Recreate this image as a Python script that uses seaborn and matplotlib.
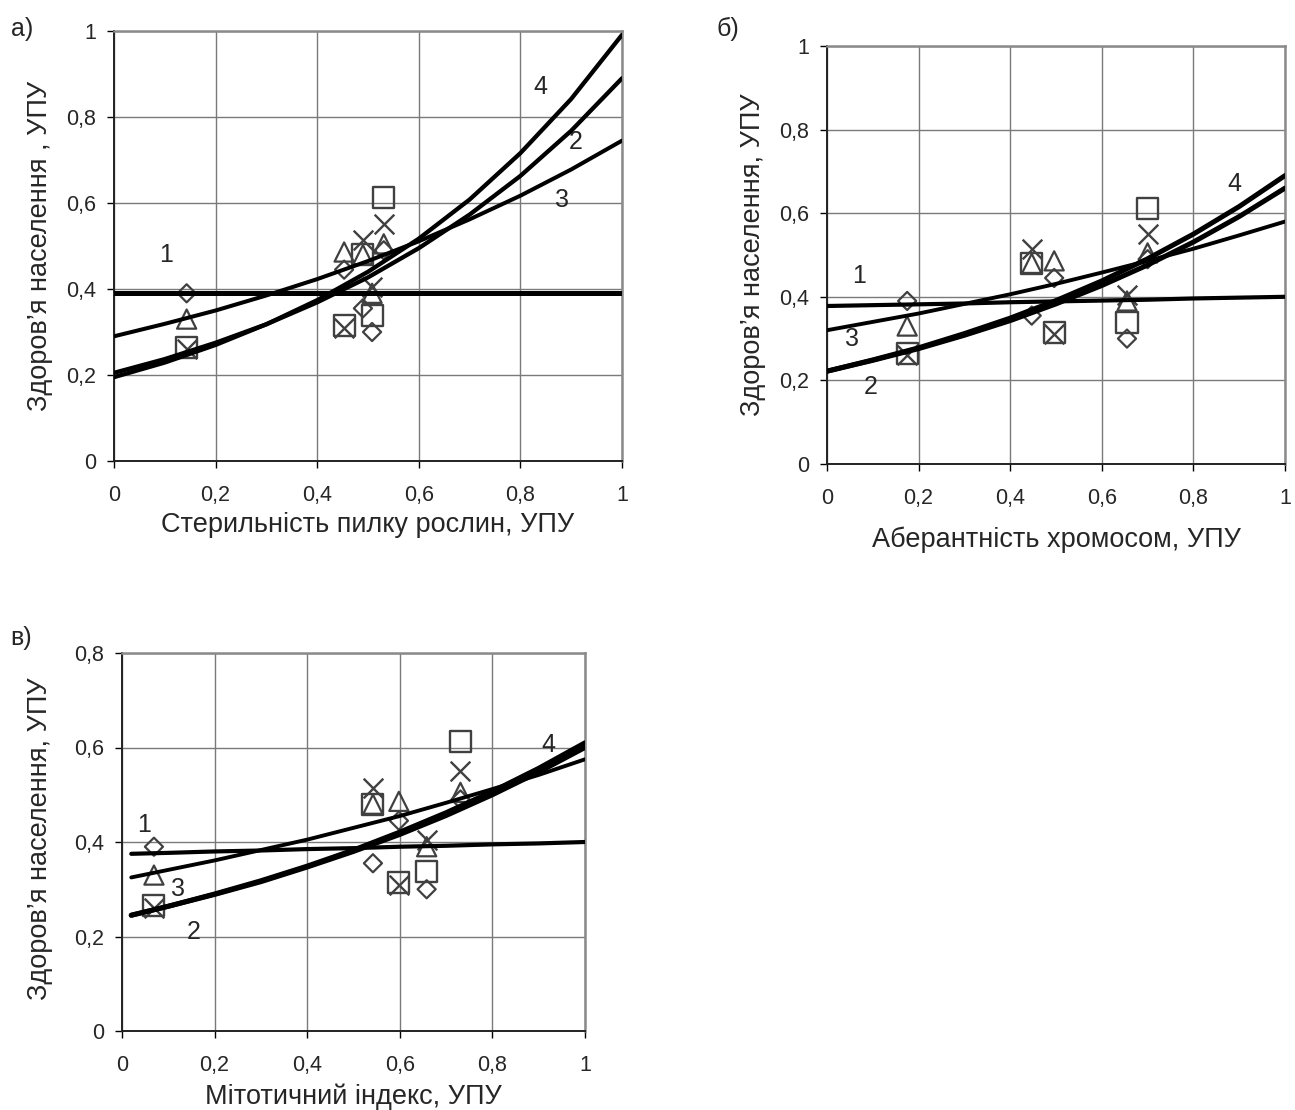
import matplotlib
matplotlib.use("Agg")
import matplotlib.pyplot as plt
import seaborn as sns
import pandas as pd

sns.set_theme(style="white")
plt.rcParams['font.family'] = ['Liberation Sans', 'DejaVu Sans']

# ---------------- data ----------------
# health indicator per site (same in all panels), by marker series
health_diamond = [0.39, 0.355, 0.445, 0.30, 0.49]
health_cross = [0.26, 0.515, 0.31, 0.405, 0.55]
health_triangle = [0.33, 0.48, 0.486, 0.39, 0.505]
health_square = [0.265, 0.48, 0.315, 0.338, 0.612]

# x values of the sites in each panel
x_a = [0.143, 0.49, 0.453, 0.508, 0.531]
x_b = [0.175, 0.447, 0.496, 0.655, 0.70]
x_c = [0.069, 0.542, 0.598, 0.658, 0.731]

# trend curves
curve_x_ab = [0.0, 0.1, 0.2, 0.3, 0.4, 0.5, 0.6, 0.7, 0.8, 0.9, 1.0]
curve_x_c = [0.02, 0.1, 0.2, 0.3, 0.4, 0.5, 0.6, 0.7, 0.8, 0.9, 1.0]

a_curve1 = [0.39, 0.39, 0.39, 0.39, 0.39, 0.39, 0.39, 0.39, 0.39, 0.39, 0.39]
a_curve2 = [0.205, 0.237, 0.275, 0.318, 0.369, 0.427, 0.495, 0.573, 0.663, 0.768, 0.890]
a_curve3 = [0.290, 0.319, 0.350, 0.385, 0.423, 0.465, 0.511, 0.562, 0.617, 0.678, 0.745]
a_curve4 = [0.195, 0.229, 0.270, 0.318, 0.374, 0.440, 0.517, 0.608, 0.716, 0.842, 0.991]

b_curve1 = [0.378, 0.380, 0.382, 0.384, 0.387, 0.389, 0.391, 0.393, 0.396, 0.398, 0.400]
b_curve2 = [0.222, 0.248, 0.276, 0.308, 0.343, 0.383, 0.427, 0.476, 0.531, 0.592, 0.660]
b_curve3 = [0.320, 0.340, 0.360, 0.383, 0.406, 0.431, 0.458, 0.486, 0.515, 0.547, 0.580]
b_curve4 = [0.222, 0.249, 0.278, 0.312, 0.349, 0.391, 0.438, 0.491, 0.550, 0.616, 0.690]

c_curve1 = [0.375, 0.377, 0.380, 0.382, 0.385, 0.387, 0.390, 0.392, 0.395, 0.397, 0.400]
c_curve2 = [0.245, 0.264, 0.289, 0.316, 0.347, 0.380, 0.416, 0.456, 0.500, 0.548, 0.600]
c_curve3 = [0.325, 0.341, 0.361, 0.383, 0.405, 0.430, 0.455, 0.483, 0.512, 0.542, 0.575]
c_curve4 = [0.245, 0.264, 0.290, 0.318, 0.349, 0.383, 0.421, 0.462, 0.507, 0.556, 0.610]

xlabels = ["Стерильність пилку рослин, УПУ", "Аберантність хромосом, УПУ", "Мітотичний індекс, УПУ"]
ylabels = ["Здоров’я населення , УПУ", "Здоров’я населення, УПУ", "Здоров’я населення, УПУ"]
panel_tags = ["а)", "б)", "в)"]
xtick_vals = [0, 0.2, 0.4, 0.6, 0.8, 1.0]
xtick_text = ["0", "0,2", "0,4", "0,6", "0,8", "1"]
ytick_vals_ab = [0, 0.2, 0.4, 0.6, 0.8, 1.0]
ytick_text_ab = ["0", "0,2", "0,4", "0,6", "0,8", "1"]
ytick_vals_c = [0, 0.2, 0.4, 0.6, 0.8]
ytick_text_c = ["0", "0,2", "0,4", "0,6", "0,8"]
curve_labels = ["1", "2", "3", "4"]

TICK_FS = 15.5
LABEL_FS = 19.5
NUM_FS = 18

# ---------------- figure ----------------
fig = plt.figure(figsize=(12.95, 11.10), dpi=100)
ax_a = fig.add_axes([114 / 1295, 1 - 461 / 1110, 508 / 1295, 430 / 1110])
ax_b = fig.add_axes([827 / 1295, 1 - 464 / 1110, 458 / 1295, 418 / 1110])
ax_c = fig.add_axes([122 / 1295, 1 - 1031 / 1110, 463 / 1295, 378 / 1110])

GREY = "#404040"


def draw_points(ax, xs):
    sns.scatterplot(x=xs, y=health_diamond, marker="D", s=85, facecolors="none",
                    edgecolors=GREY, linewidths=1.6, ax=ax, zorder=3)
    sns.scatterplot(x=xs, y=health_triangle, marker="^", s=190, facecolors="none",
                    edgecolors=GREY, linewidths=1.6, ax=ax, zorder=3)
    sns.scatterplot(x=xs, y=health_square, marker="s", s=230, facecolors="none",
                    edgecolors=GREY, linewidths=1.7, ax=ax, zorder=3)
    sns.scatterplot(x=xs, y=health_cross, marker="x", s=200, color=GREY,
                    linewidths=1.7, ax=ax, zorder=3)


def draw_curves(ax, cx, curves, widths):
    for cy, lw in zip(curves, widths):
        df = pd.DataFrame({"x": cx, "y": cy})
        sns.lineplot(data=df, x="x", y="y", color="black", lw=lw, sort=False,
                     estimator=None, ax=ax, zorder=4)


def style(ax, ymax, yv, yt, xl, yl, xlab_pos, ylab_pos):
    ax.set_xlim(0, 1)
    ax.set_ylim(0, ymax)
    ax.set_xticks(xtick_vals)
    ax.set_xticklabels(xtick_text, fontsize=TICK_FS)
    ax.set_yticks(yv)
    ax.set_yticklabels(yt, fontsize=TICK_FS)
    ax.grid(True, color="#7a7a7a", lw=1.0)
    ax.set_axisbelow(True)
    for s in ["top", "right"]:
        ax.spines[s].set_color("#8a8a8a")
        ax.spines[s].set_linewidth(1.8)
    for s in ["left", "bottom"]:
        ax.spines[s].set_color("#222222")
        ax.spines[s].set_linewidth(1.4)
    ax.tick_params(axis="both", direction="out", length=5, width=1, color="black",
                   left=True, bottom=True, right=False, top=False)
    ax.tick_params(axis="x", pad=12)
    ax.tick_params(axis="y", pad=8)
    ax.set_xlabel(xl, fontsize=LABEL_FS)
    ax.set_ylabel(yl, fontsize=LABEL_FS)
    ax.xaxis.label.set_va("center")
    ax.yaxis.label.set_va("center")
    ax.xaxis.set_label_coords(*xlab_pos)
    ax.yaxis.set_label_coords(*ylab_pos)


# panel a
draw_points(ax_a, x_a)
draw_curves(ax_a, curve_x_ab, [a_curve1, a_curve2, a_curve3, a_curve4], [3.6, 3.1, 2.9, 3.1])
style(ax_a, 1.0, ytick_vals_ab, ytick_text_ab, xlabels[0], ylabels[0], (0.5, -0.15), (-0.146, 0.5))
for lab, (tx, ty) in zip(curve_labels, [(0.102, 0.48), (0.909, 0.742), (0.882, 0.607), (0.84, 0.87)]):
    ax_a.text(tx, ty, lab, fontsize=NUM_FS, ha="center", va="center")

# panel b
draw_points(ax_b, x_b)
draw_curves(ax_b, curve_x_ab, [b_curve1, b_curve2, b_curve3, b_curve4], [3.0, 3.6, 2.8, 3.6])
style(ax_b, 1.0, ytick_vals_ab, ytick_text_ab, xlabels[1], ylabels[1], (0.5, -0.182), (-0.162, 0.5))
for lab, (tx, ty) in zip(curve_labels, [(0.07, 0.45), (0.095, 0.185), (0.055, 0.30), (0.89, 0.67)]):
    ax_b.text(tx, ty, lab, fontsize=NUM_FS, ha="center", va="center")

# panel c
draw_points(ax_c, x_c)
draw_curves(ax_c, curve_x_c, [c_curve1, c_curve2, c_curve3, c_curve4], [3.0, 3.6, 2.8, 3.6])
style(ax_c, 0.8, ytick_vals_c, ytick_text_c, xlabels[2], ylabels[2], (0.5, -0.174), (-0.178, 0.51))
for lab, (tx, ty) in zip(curve_labels, [(0.047, 0.437), (0.155, 0.21), (0.12, 0.30), (0.92, 0.605)]):
    ax_c.text(tx, ty, lab, fontsize=NUM_FS, ha="center", va="center")

# panel tags
fig.text(22 / 1295, 1 - 29 / 1110, panel_tags[0], fontsize=NUM_FS, ha="center", va="center")
fig.text(728 / 1295, 1 - 29 / 1110, panel_tags[1], fontsize=NUM_FS, ha="center", va="center")
fig.text(21 / 1295, 1 - 638 / 1110, panel_tags[2], fontsize=NUM_FS, ha="center", va="center")

fig.savefig("out.png", dpi=100, facecolor="white")
